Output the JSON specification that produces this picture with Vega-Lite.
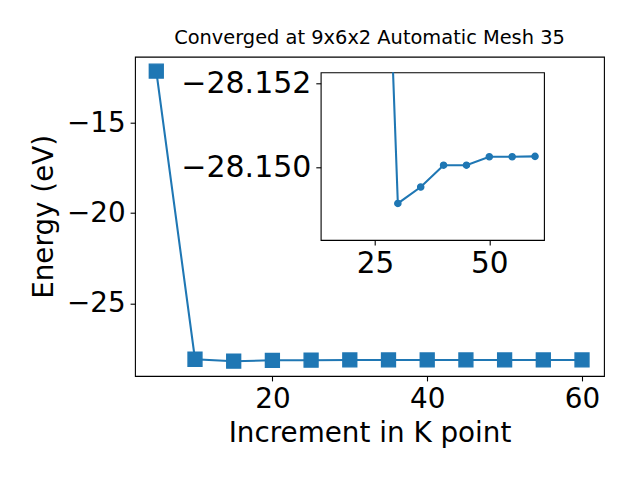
{
  "$schema": "https://vega.github.io/schema/vega-lite/v6.json",
  "autosize": {"type": "none"},
  "padding": {"left": 135, "top": 72.3, "right": 505, "bottom": 407.7},
  "background": "white",
  "datasets": {
    "energy": [
      {"k": 5, "E": -12.12},
      {"k": 10, "E": -28.11},
      {"k": 15, "E": -28.22},
      {"k": 20, "E": -28.17},
      {"k": 25, "E": -28.164},
      {"k": 30, "E": -28.14914},
      {"k": 35, "E": -28.14953},
      {"k": 40, "E": -28.15005},
      {"k": 45, "E": -28.15005},
      {"k": 50, "E": -28.15025},
      {"k": 55, "E": -28.15025},
      {"k": 60, "E": -28.15026}
    ]
  },
  "columns": 2,
  "spacing": {"column": -283.3, "row": -183.6},
  "align": "none",
  "bounds": "flush",
  "concat": [
    {
      "width": 1,
      "height": 1,
      "view": {"stroke": null},
      "data": {"values": [{"a": 0}]},
      "mark": {"type": "point", "opacity": 0}
    },
    {
      "width": 223.3,
      "height": 167.7,
      "data": {"name": "energy"},
      "transform": [{"filter": "datum.k >= 15"}],
      "encoding": {
        "x": {"field": "k", "type": "quantitative", "scale": {"domain": [13.13, 61.96], "nice": false, "zero": false}, "axis": {"values": [25, 50], "title": null, "labelFontSize": 29.5}},
        "y": {"field": "E", "type": "quantitative", "scale": {"domain": [-28.15226, -28.14827], "nice": false, "zero": false, "reverse": true}, "axis": {"values": [-28.152, -28.15], "format": ".3f", "title": null, "labelFontSize": 30}}
      },
      "layer": [
        {"mark": {"type": "line", "clip": true, "color": "#1f77b4", "strokeWidth": 2.08}},
        {"mark": {"type": "point", "clip": true, "filled": true, "size": 38, "color": "#1f77b4", "stroke": "#1f77b4", "strokeWidth": 1.4, "opacity": 1}}
      ]
    },
    {
      "width": 469,
      "height": 319.3,
      "title": {"text": "Converged at 9x6x2 Automatic Mesh 35"},
      "data": {"name": "energy"},
      "encoding": {
        "x": {"field": "k", "type": "quantitative", "scale": {"domain": [2.25, 62.84], "nice": false, "zero": false}, "axis": {"values": [20, 40, 60], "title": "Increment in K point", "titlePadding": 6}},
        "y": {"field": "E", "type": "quantitative", "scale": {"domain": [-29.04, -11.32], "nice": false, "zero": false}, "axis": {"values": [-15, -20, -25], "title": "Energy (eV)", "titlePadding": 8}}
      },
      "layer": [
        {"mark": {"type": "line", "color": "#1f77b4", "strokeWidth": 2.08}},
        {"mark": {"type": "point", "shape": "square", "filled": true, "size": 193, "color": "#1f77b4", "stroke": "#1f77b4", "strokeWidth": 1.4, "opacity": 1}}
      ]
    }
  ],
  "config": {
    "font": "DejaVu Sans",
    "view": {"stroke": "black", "strokeWidth": 1.1},
    "axis": {
      "domain": false,
      "grid": false,
      "labelFont": "DejaVu Sans",
      "labelFontSize": 27.8,
      "labelColor": "black",
      "labelOverlap": false,
      "labelFlush": false,
      "tickColor": "black",
      "tickSize": 4.9,
      "tickWidth": 1.1,
      "labelPadding": 4.9,
      "titleFont": "DejaVu Sans",
      "titleFontSize": 27.8,
      "titleFontWeight": "normal",
      "titleColor": "black"
    },
    "title": {
      "font": "DejaVu Sans",
      "fontSize": 19.4,
      "fontWeight": "normal",
      "color": "black",
      "anchor": "middle",
      "frame": "group",
      "baseline": "alphabetic",
      "offset": 8.3
    }
  }
}
